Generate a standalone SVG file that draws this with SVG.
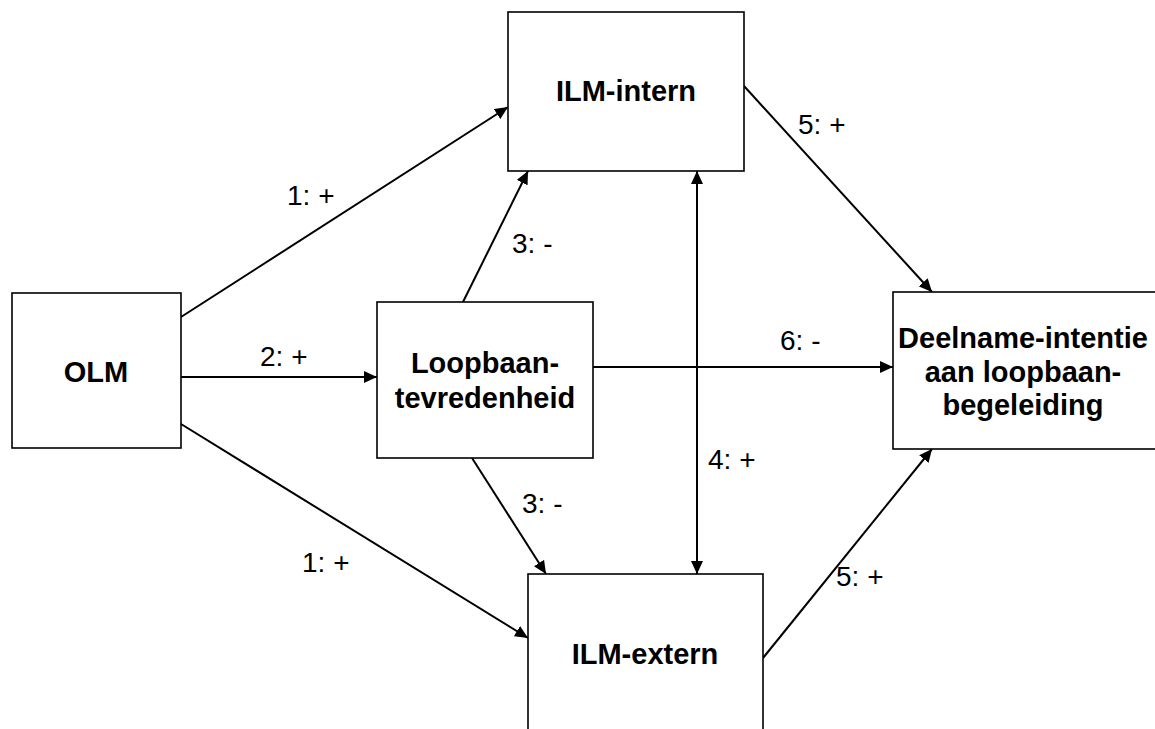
<svg xmlns="http://www.w3.org/2000/svg" width="1155" height="729" viewBox="0 0 1155 729">
<style>
.box{fill:#fff;stroke:#000;stroke-width:1.6}
.nt{font-family:"Liberation Sans",Arial,sans-serif;font-weight:bold;font-size:29px;text-anchor:middle;fill:#000}
.lb{font-family:"Liberation Sans",Arial,sans-serif;font-size:28px;fill:#000}
.ln{stroke:#000;stroke-width:2;fill:none}
</style>
<defs>
<marker id="ah" markerUnits="userSpaceOnUse" markerWidth="14" markerHeight="12" refX="13" refY="6" orient="auto-start-reverse">
<path d="M0,0 L13,6 L0,12 z" fill="#000"/>
</marker>
</defs>
<rect width="1155" height="729" fill="#fff"/>
<g id="connectors">
<line class="ln" x1="181" y1="317" x2="508" y2="107" marker-end="url(#ah)"/>
<line class="ln" x1="181" y1="377" x2="377" y2="377" marker-end="url(#ah)"/>
<line class="ln" x1="181" y1="424" x2="528" y2="638" marker-end="url(#ah)"/>
<line class="ln" x1="463" y1="302" x2="528" y2="171" marker-end="url(#ah)"/>
<line class="ln" x1="472" y1="458" x2="546" y2="574" marker-end="url(#ah)"/>
<line class="ln" x1="593" y1="367" x2="893" y2="367" marker-end="url(#ah)"/>
<line class="ln" x1="697" y1="171" x2="697" y2="574" marker-start="url(#ah)" marker-end="url(#ah)"/>
<line class="ln" x1="744" y1="86" x2="932" y2="292" marker-end="url(#ah)"/>
<line class="ln" x1="763" y1="658" x2="932" y2="449" marker-end="url(#ah)"/>
<text class="lb" x="287" y="205">1: +</text>
<text class="lb" x="260" y="366">2: +</text>
<text class="lb" x="302" y="572">1: +</text>
<text class="lb" x="512" y="253">3: -</text>
<text class="lb" x="522" y="513">3: -</text>
<text class="lb" x="708" y="469">4: +</text>
<text class="lb" x="798" y="134">5: +</text>
<text class="lb" x="836" y="586">5: +</text>
<text class="lb" x="780" y="350">6: -</text>
</g>
<g id="olm">
<rect class="box" x="12" y="293" width="169" height="155"/>
<text class="nt" x="96" y="382">OLM</text>
</g>
<g id="ilm-intern">
<rect class="box" x="508" y="12" width="236" height="159"/>
<text class="nt" x="626" y="101">ILM-intern</text>
</g>
<g id="loopbaan">
<rect class="box" x="377" y="302" width="216" height="156"/>
<text class="nt" x="485" y="373">Loopbaan-</text>
<text class="nt" x="485" y="408">tevredenheid</text>
</g>
<g id="deelname">
<rect class="box" x="893" y="292" width="264" height="157"/>
<text class="nt" x="1023" y="348">Deelname-intentie</text>
<text class="nt" x="1023" y="382">aan loopbaan-</text>
<text class="nt" x="1023" y="415">begeleiding</text>
</g>
<g id="ilm-extern">
<rect class="box" x="528" y="574" width="235" height="159"/>
<text class="nt" x="645" y="664">ILM-extern</text>
</g>
</svg>
